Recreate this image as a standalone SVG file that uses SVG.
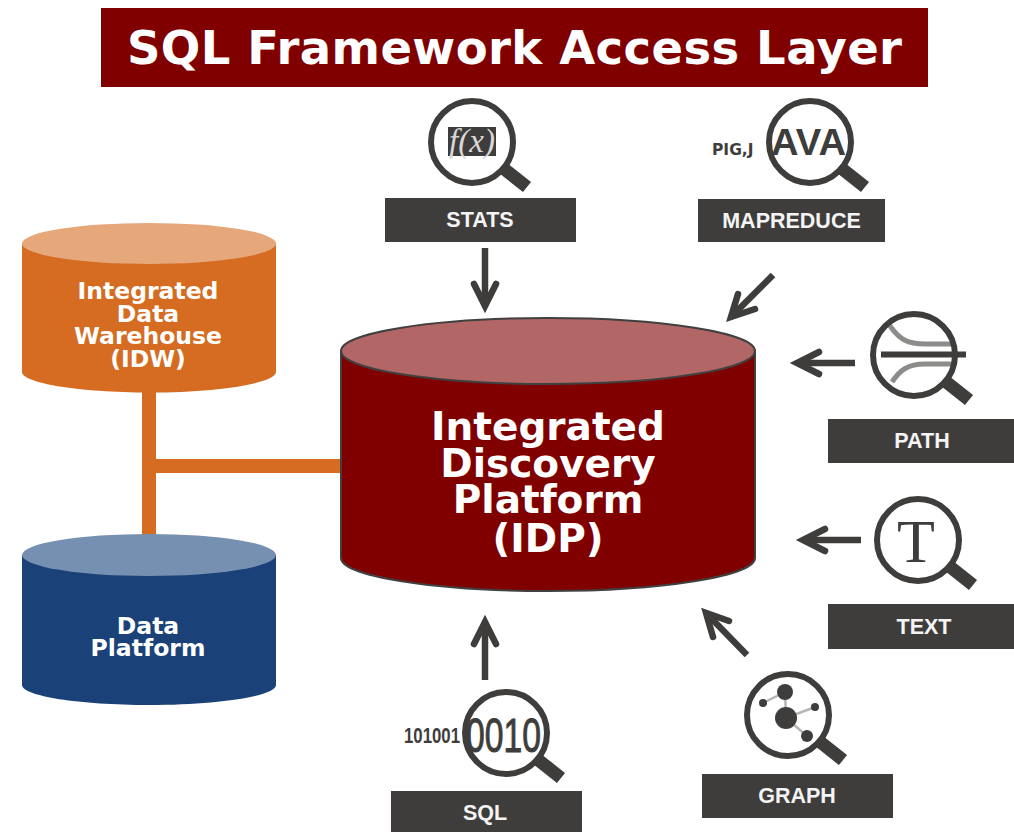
<svg xmlns="http://www.w3.org/2000/svg" xmlns:xlink="http://www.w3.org/1999/xlink" width="1014" height="832" viewBox="0 0 1014 832">
<style>
.bar{fill:#3e3d3b}
.lab{font:bold 21.5px "Liberation Sans",Arial,sans-serif;fill:#f4f4f4;text-anchor:middle}
.cyl{font-family:"DejaVu Sans",Verdana,sans-serif;font-weight:bold;fill:#fff;text-anchor:middle}
.arrow{fill:none;stroke:#3e3d3b;stroke-width:6.5;stroke-linecap:round;stroke-linejoin:miter}
.shaft{fill:none;stroke:#3e3d3b;stroke-width:6.5}
.ring{fill:none;stroke:#3e3d3b;stroke-width:6}
.handle{stroke:#3e3d3b;stroke-width:13;fill:none}
.ink{fill:#3e3d3b}
.grey{fill:none;stroke:#8c8c8a;stroke-width:5}
.thin{stroke:#b5b5b5;stroke-width:2.5;fill:none}
</style>
<defs>
<g id="lens"><circle class="ring" r="41"/><line class="handle" x1="31" y1="26" x2="55" y2="45"/></g>
</defs>
<rect width="1014" height="832" fill="#fff"/>
<g id="title">
<rect x="101" y="8" width="827" height="79" fill="#800000"/>
<text x="514.500" y="64" font-family="DejaVu Sans,Verdana,sans-serif" font-weight="bold" font-size="46.500" fill="#fff" text-anchor="middle" textLength="775" lengthAdjust="spacing">SQL Framework Access Layer</text>
</g>
<g id="connectors">
<rect x="142" y="390" width="14" height="146" fill="#d56c22"/>
<rect x="156" y="459" width="186" height="14" fill="#d56c22"/>
<g id="arrow-stats"><path class="shaft" d="M485 248V306"/><path class="arrow" d="M474 284L485 306L496 284"/></g>
<g id="arrow-mapreduce"><path class="shaft" d="M773 275L733 315"/><path class="arrow" d="M738 294L731 317L755 309"/></g>
<g id="arrow-path"><path class="shaft" d="M855 363H798"/><path class="arrow" d="M819 352L797 363L819 374"/></g>
<g id="arrow-text"><path class="shaft" d="M861 540H803"/><path class="arrow" d="M825 529L803 540L825 551"/></g>
<g id="arrow-sql"><path class="shaft" d="M485 680V622"/><path class="arrow" d="M474 644L485 622L496 644"/></g>
<g id="arrow-graph"><path class="shaft" d="M747 655L708 615"/><path class="arrow" d="M729 621L706 613L713 637"/></g>
</g>
<g id="idw">
<path d="M22 243.500V372C22 383 79 392.500 149 392.500S276 383 276 372V243.500Z" fill="#d56c22"/>
<ellipse cx="149" cy="243.500" rx="127" ry="20.500" fill="#e6a77a"/>
<text class="cyl" font-size="23.500"><tspan x="148" y="299">Integrated</tspan><tspan x="148" y="321.500">Data</tspan><tspan x="148" y="344">Warehouse</tspan><tspan x="148" y="367">(IDW)</tspan></text>
</g>
<g id="data-platform">
<path d="M22 555V685C22 696 79 705 149 705S276 696 276 685V555Z" fill="#1b4278"/>
<ellipse cx="149" cy="555" rx="127" ry="21" fill="#7690b2"/>
<text class="cyl" font-size="23.500"><tspan x="148" y="634">Data</tspan><tspan x="148" y="656">Platform</tspan></text>
</g>
<g id="idp">
<path d="M341 351V558C341 576 434 591 548 591S755 576 755 558V351Z" fill="#800000" stroke="#404040" stroke-width="2"/>
<ellipse cx="548" cy="351" rx="207" ry="33" fill="#b36666" stroke="#404040" stroke-width="2"/>
<text class="cyl" font-size="39"><tspan x="548" y="440">Integrated</tspan><tspan x="548" y="477">Discovery</tspan><tspan x="548" y="513">Platform</tspan><tspan x="548" y="552">(IDP)</tspan></text>
</g>
<g id="stats">
<rect x="448" y="127" width="48" height="29" class="ink"/>
<text x="472" y="152" font-family="Liberation Serif,serif" font-style="italic" font-size="33" fill="#d8d8d8" text-anchor="middle">f(x)</text>
<use xlink:href="#lens" href="#lens" x="472" y="142"/>
<rect class="bar" x="385" y="198" width="191" height="44"/>
<text class="lab" x="480" y="227">STATS</text>
</g>
<g id="mapreduce">
<text x="712" y="155" font-family="DejaVu Sans,Verdana,sans-serif" font-weight="bold" font-size="15.500" fill="#3e3d3b">PIG,J</text>
<text x="771" y="155" font-family="Liberation Sans,Arial,sans-serif" font-weight="bold" font-size="37" fill="#3e3d3b" textLength="75" lengthAdjust="spacingAndGlyphs">AVA</text>
<use xlink:href="#lens" href="#lens" x="810" y="142"/>
<rect class="bar" x="698" y="199" width="187" height="43"/>
<text class="lab" x="791.500" y="227.500">MAPREDUCE</text>
</g>
<g id="path">
<path class="grey" d="M890 326C900 340 908 344 925 344H953"/>
<path class="grey" d="M892 382C900 370 908 364 925 364H953"/>
<path d="M881 354.500H966" stroke="#3e3d3b" stroke-width="6" fill="none"/>
<use xlink:href="#lens" href="#lens" x="914" y="355"/>
<rect class="bar" x="828" y="419" width="186" height="44"/>
<text class="lab" x="922" y="448">PATH</text>
</g>
<g id="text">
<text x="916" y="562" font-family="Liberation Serif,serif" font-size="62" fill="#3e3d3b" text-anchor="middle">T</text>
<use xlink:href="#lens" href="#lens" x="918" y="540"/>
<rect class="bar" x="828" y="604" width="186" height="45"/>
<text class="lab" x="924" y="634">TEXT</text>
</g>
<g id="sql">
<text x="404" y="743" font-family="Liberation Sans,Arial,sans-serif" font-weight="bold" font-size="22" fill="#3e3d3b" textLength="56" lengthAdjust="spacingAndGlyphs">101001</text>
<text x="466" y="752" font-family="Liberation Sans,Arial,sans-serif" font-size="49" fill="#3e3d3b" stroke="#3e3d3b" stroke-width="1" textLength="75" lengthAdjust="spacingAndGlyphs">0010</text>
<use xlink:href="#lens" href="#lens" x="506" y="733"/>
<rect class="bar" x="391" y="791" width="191" height="41"/>
<text class="lab" x="485" y="820">SQL</text>
</g>
<g id="graph">
<path class="thin" d="M763 703L785 692L786 718L815 707M786 718L807 736"/>
<circle class="ink" cx="785" cy="692" r="8"/>
<circle class="ink" cx="786" cy="718" r="11"/>
<circle class="ink" cx="763" cy="703" r="4"/>
<circle class="ink" cx="815" cy="707" r="4"/>
<circle class="ink" cx="807" cy="736" r="6"/>
<use xlink:href="#lens" href="#lens" x="788" y="715"/>
<rect class="bar" x="702" y="774" width="191" height="44"/>
<text class="lab" x="797" y="803">GRAPH</text>
</g>
</svg>
